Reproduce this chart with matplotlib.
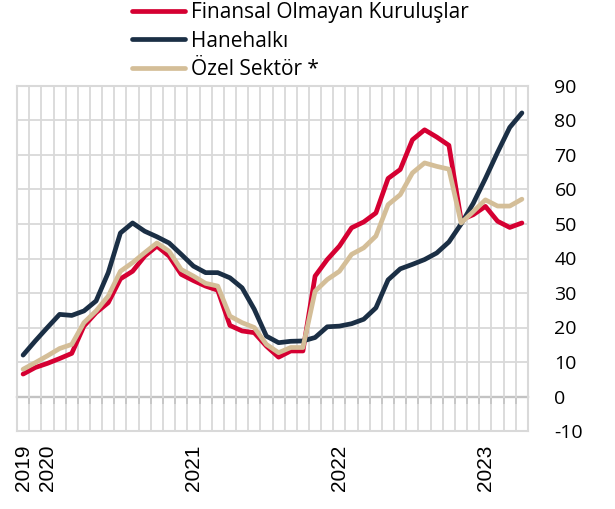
import numpy as np
import matplotlib
matplotlib.use("Agg")
import matplotlib.pyplot as plt

plt.rcParams['font.family'] = ['Open Sans', 'DejaVu Sans']
plt.rcParams['axes.unicode_minus'] = False

# 2019 (2 points), 2020-2022 monthly, 2023 Jan-Apr
year_labels = ['2019', '2020', '2021', '2022', '2023']
year_pos = [0, 2, 14, 26, 38]

finansal = [6.5, 8.4, 9.6, 11.0, 12.5, 20.4, 24.3, 27.2, 34.1, 36.3,
            40.7, 43.6, 40.7, 35.4, 33.6, 32.0, 30.8, 20.6, 19.0, 18.5,
            14.6, 11.4, 13.2, 13.2, 34.9, 39.7, 43.6, 48.9, 50.6, 53.2,
            63.2, 65.8, 74.4, 77.3, 75.2, 72.8, 51.2, 52.7, 55.1, 50.8,
            49.0, 50.3]
hanehalki = [12.0, 16.1, 20.0, 23.8, 23.5, 24.8, 27.7, 35.9, 47.4, 50.3,
             47.9, 46.3, 44.5, 41.2, 37.8, 35.9, 35.9, 34.4, 31.5, 25.3,
             17.5, 15.6, 16.0, 16.1, 17.1, 20.2, 20.4, 21.1, 22.4, 25.7,
             33.8, 37.0, 38.3, 39.7, 41.6, 44.8, 50.0, 56.0, 63.2, 70.8,
             78.0, 82.2]
ozel = [7.9, 9.8, 11.8, 13.9, 15.1, 21.4, 24.8, 29.1, 36.3, 38.8,
        41.7, 44.5, 42.1, 36.8, 34.9, 32.8, 32.0, 23.3, 21.4, 20.0,
        15.1, 12.7, 14.2, 14.2, 30.5, 33.9, 36.3, 41.2, 43.1, 46.5,
        55.6, 58.5, 64.8, 67.7, 66.7, 65.9, 50.3, 53.6, 57.0, 55.2,
        55.2, 57.2]

names = ['Finansal Olmayan Kuruluşlar', 'Hanehalkı', 'Özel Sektör *']
colors = ['#D50032', '#1B2F45', '#D4BE98']

x = np.arange(len(finansal))
grid_c = '#D9D9D9'

fig = plt.figure(figsize=(6.15, 5.09), dpi=100)
ax = fig.add_axes([17/615, 1 - 431/509, 511/615, 345/509])

for vals, name, c in zip([finansal, hanehalki, ozel], names, colors):
    ax.plot(x, vals, color=c, lw=3.4, label=name,
            solid_joinstyle='round', solid_capstyle='round')

ax.set_xlim(-0.5, len(x) - 0.5)
ax.set_ylim(-10, 90)
ax.set_yticks(np.arange(-10, 91, 10))
ax.yaxis.tick_right()
ax.tick_params(axis='y', length=0, pad=19, labelsize=14)
for lab in ax.get_yticklabels():
    lab.set_horizontalalignment('left')

ax.set_xticks(year_pos)
ax.set_xticklabels(year_labels, rotation=90, fontsize=15,
                   family=['Liberation Sans', 'DejaVu Sans'])
ax.set_xticks(np.arange(-0.5, len(x)), minor=True)
ax.tick_params(axis='x', which='both', length=0, pad=10)

ax.grid(True, which='major', axis='y', color=grid_c, lw=1.3)
ax.grid(True, which='minor', axis='x', color=grid_c, lw=1.3)
ax.set_axisbelow(True)
for s in ax.spines.values():
    s.set_color(grid_c)
    s.set_linewidth(1.5)

# zero line with tick marks
zax = ax.secondary_xaxis(0, transform=ax.transData)
zax.spines['bottom'].set_color('black')
zax.spines['bottom'].set_linewidth(1.5)
zax.set_xticks(np.arange(-0.5, len(x)))
zax.set_xticklabels([])
zax.tick_params(axis='x', direction='out', length=5, width=1.2, color='black')

fig.legend(loc='upper left', bbox_to_anchor=(124/615, 1.012), frameon=False,
           fontsize=15, handlelength=2.55, handletextpad=0.25,
           labelspacing=0.36, borderaxespad=0)

fig.savefig('out.png', dpi=100)
